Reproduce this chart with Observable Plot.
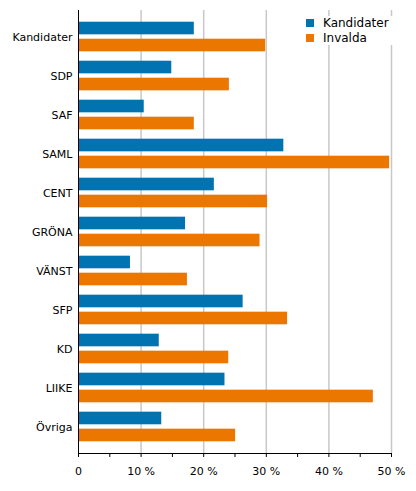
<!DOCTYPE html>
<html>
<head>
<meta charset="utf-8">
<script src="https://cdn.jsdelivr.net/npm/d3@7"></script>
<script src="https://cdn.jsdelivr.net/npm/@observablehq/plot@0.6"></script>
<style>
  body { margin: 0; background: #fff; }
  #chart { position: relative; width: 416px; height: 491px; }
  #legend {
    position: absolute; left: 300px; top: 16px; background: #fff;
    font: 12px "DejaVu Sans", sans-serif; color: #000; padding: 0 4px 0 6px;
  }
  #legend .row { display: flex; align-items: center; height: 14.5px; }
  #legend .sw { width: 8px; height: 8px; margin-right: 9px; }
</style>
</head>
<body>
<div id="chart"></div>
<script>
// andel (%) per parti
const partier = ['Kandidater', 'SDP', 'SAF', 'SAML', 'CENT', 'GRÖNA', 'VÄNST', 'SFP', 'KD', 'LIIKE', 'Övriga'];
const kandidater = [18.5, 14.9, 10.5, 32.8, 21.7, 17.1, 8.3, 26.3, 12.9, 23.4, 13.3];
const invalda = [29.9, 24.1, 18.5, 49.7, 30.2, 29.0, 17.4, 33.4, 24.0, 47.1, 25.1];
const serier = ['Kandidater', 'Invalda'];
const farger = ['#0073b0', '#eb7600'];
const xTicks = [0, 5, 10, 15, 20, 25, 30, 35, 40, 45, 50];

const rader = partier.map((p, i) => ({parti: p, kandidater: kandidater[i], invalda: invalda[i]}));

const chart = Plot.plot({
  width: 416,
  height: 491,
  marginTop: 10,
  marginLeft: 78,
  marginRight: 25,
  marginBottom: 38,
  style: {fontFamily: '"DejaVu Sans", sans-serif', fontSize: '11px', color: '#000'},
  x: {domain: [0, 50]},
  y: {domain: partier, paddingInner: 0.24, paddingOuter: 0.3, round: false, label: null},
  marks: [
    Plot.gridX(xTicks.filter(d => d % 10 === 0 && d > 0), {stroke: '#c8c8c8', strokeOpacity: 1, strokeWidth: 1.5}),
    Plot.barX(rader, {y: 'parti', x: 'kandidater', fill: farger[0], insetBottom: 17}),
    Plot.barX(rader, {y: 'parti', x: 'invalda', fill: farger[1], insetTop: 17}),
    Plot.ruleX([0], {stroke: '#000'}),
    Plot.frame({anchor: 'bottom', stroke: '#000'}),
    Plot.axisX(xTicks, {
      tickSize: 4, tickPadding: 10, stroke: '#000',
      tickFormat: d => d % 10 ? '' : (d === 0 ? '0' : d + ' %')
    }),
    Plot.axisY({tickSize: 0, tickPadding: 6, label: null})
  ]
});

d3.select('#chart').append(() => chart);

// förklaring
const legend = d3.select('#chart').append('div').attr('id', 'legend');
const rad = legend.selectAll('.row').data(serier).join('div').attr('class', 'row');
rad.append('div').attr('class', 'sw').style('background', (d, i) => farger[i]);
rad.append('span').text(d => d);
</script>
</body>
</html>
